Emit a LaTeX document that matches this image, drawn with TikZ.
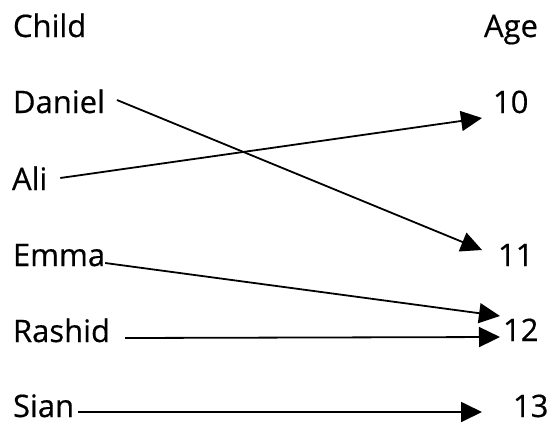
\documentclass[tikz,border=0pt]{standalone}
\usepackage{fontspec}
\newfontfamily\lblfont{Open Sans}[UprightFeatures={FakeBold=0.5}]
\usetikzlibrary{arrows.meta}
\begin{document}
\begin{tikzpicture}[x=1pt,y=-1pt,
  lbl/.style={inner sep=0pt,outer sep=0pt,font=\lblfont\fontsize{31}{35}\selectfont},
  link/.style={line width=1.8pt,-{Triangle[length=21pt,width=20pt]}}]
\useasboundingbox (0,0) rectangle (547,424);
\node[lbl,anchor=base west] (child) at (13,37) {Child};
\node[lbl,anchor=base east] (age) at (538,37) {Age};
\node[lbl,anchor=base west] (daniel) at (13,113) {Daniel};
\node[lbl,anchor=base west] (ali) at (12,190) {Ali};
\node[lbl,anchor=base west] (emma) at (13,266) {Emma};
\node[lbl,anchor=base west] (rashid) at (13,342) {Rashid};
\node[lbl,anchor=base west] (sian) at (13,417) {Sian};
\node[lbl,anchor=base west] (n10) at (493,113) {10};
\node[lbl,anchor=base west] (n11) at (498,266) {11};
\node[lbl,anchor=base west] (n12) at (503,341) {12};
\node[lbl,anchor=base west] (n13) at (513,417) {13};
\draw[link] ([shift={(12,-13)}]daniel.base east) -- ([shift={(-16,-16)}]n11.base west);
\draw[link] ([shift={(13,-12)}]ali.base east) -- ([shift={(-11,5)}]n10.base west);
\draw[link] ([shift={(0,-3)}]emma.base east) -- ([shift={(-3,-25)}]n12.base west);
\draw[link] ([shift={(15,-4)}]rashid.base east) -- ([shift={(-3,-4)}]n12.base west);
\draw[link] ([shift={(4,-5)}]sian.base east) -- ([shift={(-31,-5)}]n13.base west);
\end{tikzpicture}
\end{document}
